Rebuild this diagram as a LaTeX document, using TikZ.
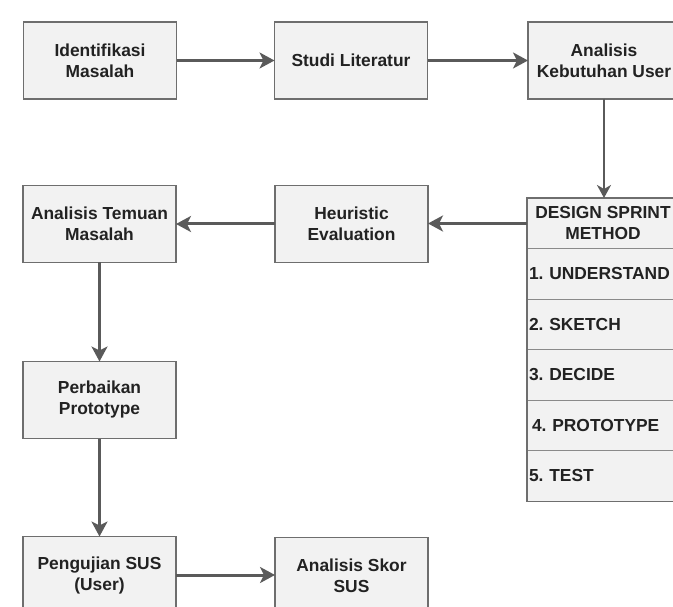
\documentclass[tikz,border=0pt]{standalone}
\usepackage{fontspec}
\setmainfont{Liberation Sans}
\usetikzlibrary{arrows.meta}
\definecolor{boxfill}{HTML}{F2F2F2}
\definecolor{boxline}{HTML}{6E6E6E}
\definecolor{rowline}{HTML}{8A8A8A}
\definecolor{arrowc}{HTML}{5A5A5A}
\definecolor{txt}{HTML}{222222}
\frenchspacing
\begin{document}
\begin{tikzpicture}[x=1pt,y=-1pt,
  lbl/.style={font=\fontsize{17.4}{21}\selectfont\bfseries\frenchspacing, text=txt},
  box/.style={lbl, draw=boxline, fill=boxfill, line width=1.3pt, minimum width=153pt, minimum height=77pt, inner sep=2pt, outer sep=0pt, align=center},
  row/.style={lbl, draw=rowline, fill=boxfill, line width=1pt, minimum height=50.5pt, text width=148pt, inner xsep=2pt, inner ysep=0pt, outer sep=0pt, align=left},
  link/.style={draw=arrowc, line width=3pt, -{Stealth[length=15pt,width=16pt,inset=4pt]}},
]
\useasboundingbox (0,0) rectangle (673,607);
\clip (0,0) rectangle (673,607);
\fill[white] (0,0) rectangle (673,607);

\node[box] (idm) at (100,60.5) {Identifikasi\\Masalah};
\node[box] (stl) at (351,60.5) {Studi Literatur};
\node[box, minimum width=152pt] (akb) at (604,60.5) {Analisis\\Kebutuhan User};

\node[box, minimum width=152pt, minimum height=51pt] (dsh) at (603,223.5) {DESIGN SPRINT\\METHOD};
\node[row] (r1) at (603,274) {1. UNDERSTAND};
\node[row] (r2) at (603,324.5) {2. SKETCH};
\node[row] (r3) at (603,375) {3. DECIDE};
\node[row] (r4) at (603,425.5) {\hspace*{3pt}4. PROTOTYPE};
\node[row] (r5) at (603,476) {5. TEST};
\draw[boxline, line width=1.3pt] (dsh.north west) rectangle (r5.south east);

\node[box] (atm) at (99.5,224) {Analisis Temuan\\Masalah};
\node[box] (hev) at (351.5,224) {Heuristic\\Evaluation};
\node[box] (pbp) at (99.5,400) {Perbaikan\\Prototype};
\node[box] (psu) at (99.5,575) {Pengujian SUS\\(User)};
\node[box] (ass) at (351.5,576) {Analisis Skor\\SUS};

\draw[link] (idm.east) -- (idm.east -| stl.west);
\draw[link] (stl.east) -- (stl.east -| akb.west);
\draw[link, line width=2pt, -{Stealth[length=13pt,width=14pt,inset=4pt]}] (akb.south) -- (akb.south |- dsh.north);
\draw[link] (dsh.west) -- (dsh.west -| hev.east);
\draw[link] (hev.west) -- (hev.west -| atm.east);
\draw[link, line width=3.5pt] (atm.south) -- (atm.south |- pbp.north);
\draw[link, line width=3.5pt] (pbp.south) -- (pbp.south |- psu.north);
\draw[link] (psu.east) -- (psu.east -| ass.west);
\end{tikzpicture}
\end{document}
